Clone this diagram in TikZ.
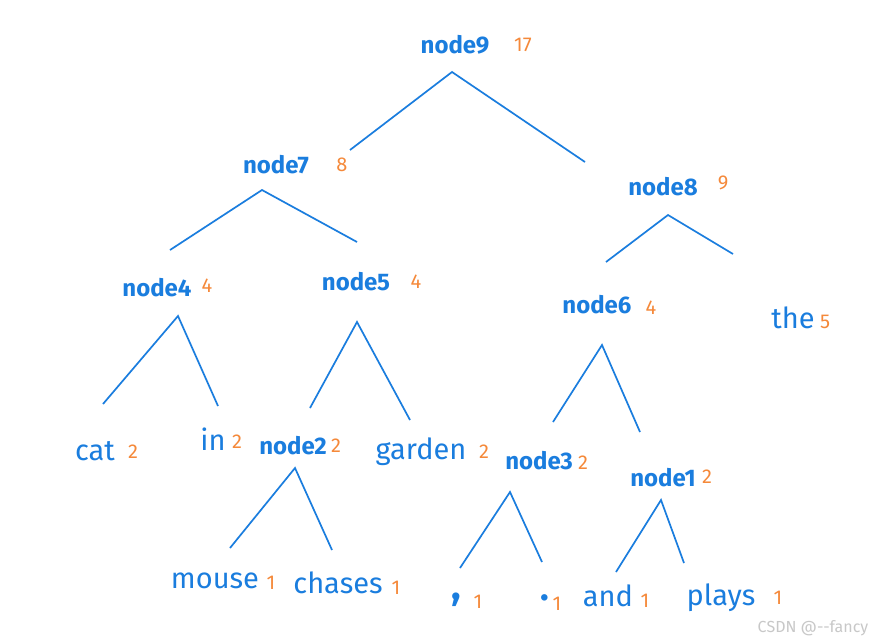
\documentclass[tikz,border=0pt]{standalone}
\usepackage{fontspec}
\setmainfont{Fira Sans}
\usepackage{tikz}
\definecolor{inkBlue}{HTML}{1A7DDE}
\definecolor{inkOrange}{HTML}{F5893A}
\definecolor{markGray}{HTML}{C8C8C8}
\tikzset{nd/.style={inkBlue, inner sep=0pt, font=\fontsize{24}{26}\selectfont\bfseries}}
\tikzset{lf/.style={inkBlue, inner sep=0pt, font=\fontsize{29}{31}\selectfont}}
\tikzset{wt/.style={inkOrange, inner sep=0pt, font=\fontsize{20}{22}\selectfont}}
\tikzset{e/.style={draw, inkBlue, line width=1.7pt}}

\begin{document}
\begin{tikzpicture}[x=1pt,y=-1pt]
        \useasboundingbox[fill=white] (0,0) rectangle (869,643);
        %% internal nodes
        \node (n9) at (455,45) [nd] {node9};
        \node (w9) at (523,45) [wt] {17};
        \node (n7) at (276,165) [nd] {node7};
        \node (w7) at (342,165) [wt] {8};
        \node (n8) at (663,187) [nd] {node8};
        \node (w8) at (723,183) [wt] {9};
        \node (n4) at (157,288) [nd] {node4};
        \node (w4) at (207,286) [wt] {4};
        \node (n5) at (356,282) [nd] {node5};
        \node (w5) at (416,282) [wt] {4};
        \node (n6) at (597,305) [nd] {node6};
        \node (w6) at (651,308) [wt] {4};
        \node (n2) at (293,446) [nd] {node2};
        \node (w2) at (336,446) [wt] {2};
        \node (n3) at (539,461) [nd] {node3};
        \node (w3) at (583,463) [wt] {2};
        \node (n1) at (663,478) [nd] {node1};
        \node (w1) at (707,477) [wt] {2};
        %% leaves
        \node (the) at (793,318) [lf] {the};
        \node (wthe) at (825,322) [wt] {5};
        \node (cat) at (95,451) [lf] {cat};
        \node (wcat) at (133,452) [wt] {2};
        \node (in) at (213,439) [lf] {in};
        \node (win) at (237,442) [wt] {2};
        \node (gard) at (421,452) [lf] {garden};
        \node (wgard) at (484,452) [wt] {2};
        \node (mouse) at (215,581) [lf] {mouse};
        \node (wmouse) at (271,583) [wt] {1};
        \node (chas) at (338,583) [lf] {chases};
        \node (wchas) at (396,588) [wt] {1};
        \node (comma) at (456,600) [lf, font=\fontsize{40}{40}\selectfont\bfseries] {,};
        \node (wcomma) at (478,602) [wt] {1};
        \node (dot) at (545,598) [lf, font=\fontsize{36}{36}\selectfont\bfseries] {.};
        \node (wdot) at (557,604) [wt] {1};
        \node (and) at (608,596) [lf] {and};
        \node (wand) at (645,601) [wt] {1};
        \node (plays) at (721,598) [lf] {plays};
        \node (wplays) at (778,598) [wt] {1};
        \node (mark) at (813,628) [inner sep=0pt, markGray, font=\fontsize{16}{18}\selectfont] {CSDN @-{}-fancy};
        %% branches
        \coordinate (t9) at (452,72); \coordinate (l9) at (350,150); \coordinate (r9) at (585,162);
        \coordinate (t7) at (262,190); \coordinate (l7) at (170,250); \coordinate (r7) at (357,242);
        \coordinate (t8) at (668,215); \coordinate (l8) at (606,262); \coordinate (r8) at (733,254);
        \coordinate (t4) at (178,316); \coordinate (l4) at (103,404); \coordinate (r4) at (218,406);
        \coordinate (t5) at (357,322); \coordinate (l5) at (310,408); \coordinate (r5) at (410,420);
        \coordinate (t6) at (602,345); \coordinate (l6) at (553,422); \coordinate (r6) at (640,432);
        \coordinate (t2) at (295,468); \coordinate (l2) at (230,548); \coordinate (r2) at (332,550);
        \coordinate (t3) at (510,492); \coordinate (l3) at (460,568); \coordinate (r3) at (542,562);
        \coordinate (t1) at (661,500); \coordinate (l1) at (616,572); \coordinate (r1) at (684,563);
        \draw [e] (l9) -- (t9) -- (r9);
        \draw [e] (l7) -- (t7) -- (r7);
        \draw [e] (l8) -- (t8) -- (r8);
        \draw [e] (l4) -- (t4) -- (r4);
        \draw [e] (l5) -- (t5) -- (r5);
        \draw [e] (l6) -- (t6) -- (r6);
        \draw [e] (l2) -- (t2) -- (r2);
        \draw [e] (l3) -- (t3) -- (r3);
        \draw [e] (l1) -- (t1) -- (r1);
    \end{tikzpicture}
\end{document}
